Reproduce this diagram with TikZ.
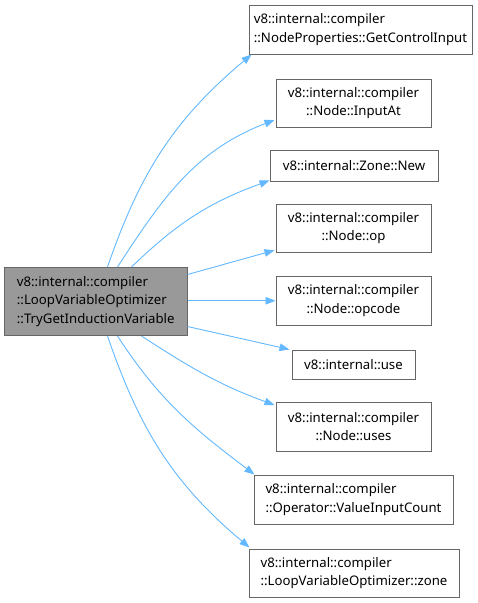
\documentclass[tikz,border=0pt]{standalone}
\usepackage{fontspec}
\setmainfont{Noto Sans}
\usetikzlibrary{arrows.meta}
\definecolor{edgeblue}{HTML}{63B8FF}
\definecolor{boxborder}{HTML}{666666}
\definecolor{srcfill}{HTML}{999999}
\begin{document}
\begin{tikzpicture}[x=1pt,y=1pt,
  box/.style={draw=boxborder, line width=1pt, fill=white, inner sep=0pt, align=center,
    font=\fontsize{13.2}{18.5}\selectfont},
  lbox/.style={box, align=left},
  edge/.style={draw=edgeblue, line width=0.9pt, -{Triangle[length=10pt,width=7.5pt]}}]
\useasboundingbox (0,0) rectangle (478,-603);
\node[lbox, fill=srcfill, minimum width=182.5pt, minimum height=68pt] (src) at (95.75,-301.5)
  {v8::internal::compiler\\::LoopVariableOptimizer\\::TryGetInductionVariable};
\node[lbox, minimum width=223pt, minimum height=49pt] (t1) at (360.5,-29.5)
  {v8::internal::compiler\\::NodeProperties::GetControlInput};
\node[box, minimum width=155pt, minimum height=48pt] (t2) at (353.5,-103)
  {v8::internal::compiler\\::Node::InputAt};
\node[box, minimum width=168pt, minimum height=30.5pt] (t3) at (354,-165.75)
  {v8::internal::Zone::New};
\node[box, minimum width=155pt, minimum height=48.5pt] (t4) at (353.5,-228.25)
  {v8::internal::compiler\\::Node::op};
\node[box, minimum width=155pt, minimum height=48.5pt] (t5) at (353.5,-300.75)
  {v8::internal::compiler\\::Node::opcode};
\node[box, minimum width=123pt, minimum height=29pt] (t6) at (353.5,-364.5)
  {v8::internal::use};
\node[box, minimum width=155pt, minimum height=49pt] (t7) at (353.5,-426.5)
  {v8::internal::compiler\\::Node::uses};
\node[lbox, minimum width=199pt, minimum height=48.5pt] (t8) at (353.5,-499.75)
  {v8::internal::compiler\\::Operator::ValueInputCount};
\node[lbox, minimum width=210pt, minimum height=48.5pt] (t9) at (354,-573.25)
  {v8::internal::compiler\\::LoopVariableOptimizer::zone};
\draw[edge] ([xshift=103.5pt]src.north west) to[out=71,in=220] ([xshift=3pt]t1.south west);
\draw[edge] ([xshift=113.5pt]src.north west) to[out=57,in=201] ([yshift=-17pt,xshift=-1pt]t2.west);
\draw[edge] ([xshift=127.5pt]src.north west) to[out=44,in=200] ([yshift=1pt]t3.south west);
\draw[edge] ([yshift=-7.5pt]src.north east) -- ([yshift=-22pt,xshift=-1pt]t4.west);
\draw[edge] (src.east |- t5.west) -- (t5.west);
\draw[edge] ([yshift=9.5pt]src.south east) -- ([xshift=-2pt]t6.north west);
\draw[edge] ([xshift=137.5pt]src.south west) to[out=-33,in=160] ([yshift=21.5pt,xshift=-1pt]t7.west);
\draw[edge] ([xshift=113.5pt]src.south west) to[out=-57,in=143] ([xshift=1pt,yshift=0.5pt]t8.north west);
\draw[edge] ([xshift=103.5pt]src.south west) to[out=-71,in=140] ([xshift=1pt,yshift=1pt]t9.north west);
\end{tikzpicture}
\end{document}
